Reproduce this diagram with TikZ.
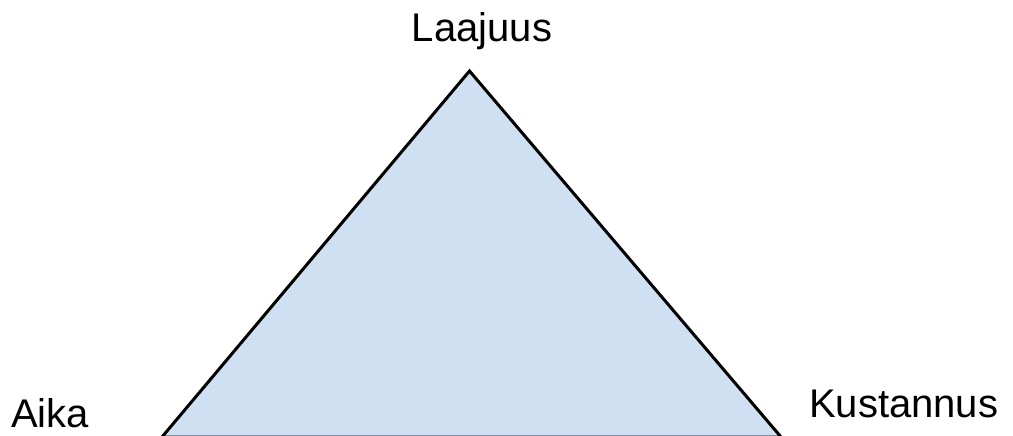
\documentclass[tikz,border=0pt]{standalone}
\usepackage{fontspec}
\setmainfont{Liberation Sans}
\definecolor{trifill}{RGB}{207,224,242}
\tikzset{
  lbl/.style={inner sep=0pt, font=\fontsize{40}{46}\selectfont, text=black},
  tri/.style={draw=black, fill=trifill, line width=3pt, line join=miter}
}
\begin{document}
\begin{tikzpicture}[x=1pt,y=-1pt]
\useasboundingbox (0,0) rectangle (1013,436);
\coordinate (top) at (469.5,71);
\coordinate (bl) at (162,437);
\coordinate (br) at (781,437);
\begin{scope}
\clip (0,0) rectangle (1013,436);
\draw[tri] (top) -- (br) -- (bl) -- cycle;
\end{scope}
\node[lbl, anchor=base] (laajuus) at (482,42) {Laajuus};
\node[lbl, anchor=base west] (aika) at (11,427) {Aika};
\node[lbl, anchor=base west] (kustannus) at (809,417) {Kustannus};
\end{tikzpicture}
\end{document}
